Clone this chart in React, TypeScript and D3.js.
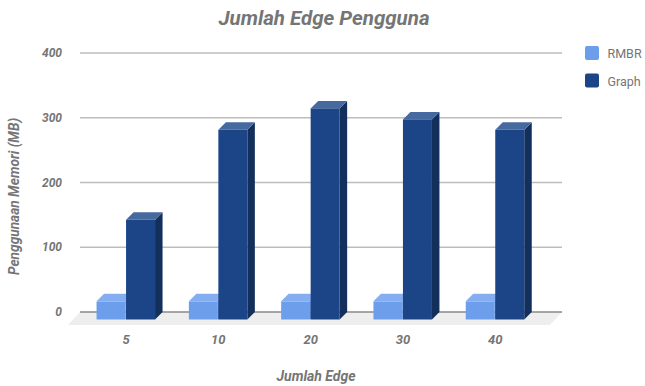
import React from "react";
import * as d3 from "d3";

const categories = ["5", "10", "20", "30", "40"];
const rmbrValues = [28, 28, 28, 28, 28];
const graphValues = [154, 293, 326, 309, 293];
const yTicks = [0, 100, 200, 300, 400];
const seriesNames = ["RMBR", "Graph"];

const WIDTH = 645;
const HEIGHT = 386;
const DEPTH_X = 7.5;
const DEPTH_Y = 7.5;
const BAR_W = 29;

const palette = {
  RMBR: { front: "#6d9eeb", top: "#84aeef", side: "#5a86c9" },
  Graph: { front: "#1c4587", top: "#46699f", side: "#132f5c" },
};

type Tone = { front: string; top: string; side: string };

function Bar3D({ x, yTop, yBase, tone }: { x: number; yTop: number; yBase: number; tone: Tone }) {
  const f = yTop + DEPTH_Y;
  const b = yBase + DEPTH_Y;
  const r = x + BAR_W;
  return (
    <g>
      <polygon
        points={`${r},${f} ${r + DEPTH_X},${yTop} ${r + DEPTH_X},${yBase} ${r},${b}`}
        fill={tone.side}
      />
      <polygon
        points={`${x},${f} ${x + DEPTH_X},${yTop} ${r + DEPTH_X},${yTop} ${r},${f}`}
        fill={tone.top}
      />
      <rect x={x} y={f} width={BAR_W} height={b - f} fill={tone.front} />
    </g>
  );
}

export default function App() {
  const y = d3.scaleLinear().domain([0, 400]).range([312, 53]);
  const x = d3.scaleBand<string>().domain(categories).range([79.9, 541.4]).padding(0);
  const center = (c: string) => (x(c) as number) + x.bandwidth() / 2;
  const axisFont = "Roboto, sans-serif";

  return (
    <svg
      width={WIDTH}
      height={HEIGHT}
      style={{ position: "absolute", left: 0, top: 0, background: "#fff" }}
      fontFamily={axisFont}
    >
      <text
        x={324}
        y={25}
        textAnchor="middle"
        fontSize={20.5}
        fontWeight={700}
        fontStyle="italic"
        fill="#757575"
      >
        Jumlah Edge Pengguna
      </text>

      <polygon
        points={`80,${y(0)} 562,${y(0)} 550,${y(0) + 13} 68,${y(0) + 13}`}
        fill="#eeeeee"
      />

      {yTicks.map((t) => (
        <g key={t}>
          <line
            x1={80}
            x2={562}
            y1={y(t)}
            y2={y(t)}
            stroke={t === 0 ? "#8a8a8a" : "#bdbdbd"}
            strokeWidth={1.4}
          />
          <text
            x={62}
            y={y(t) + 4}
            textAnchor="end"
            fontSize={12}
            fontWeight={700}
            fontStyle="italic"
            fill="#757575"
          >
            {t}
          </text>
        </g>
      ))}

      {categories.map((c, i) => (
        <g key={c}>
          <Bar3D
            x={center(c) - BAR_W - 0.5}
            yTop={y(rmbrValues[i])}
            yBase={y(0)}
            tone={palette.RMBR}
          />
          <Bar3D
            x={center(c)}
            yTop={y(graphValues[i])}
            yBase={y(0)}
            tone={palette.Graph}
          />
          <text
            x={center(c)}
            y={344}
            textAnchor="middle"
            fontSize={13}
            fontWeight={700}
            fontStyle="italic"
            fill="#757575"
          >
            {c}
          </text>
        </g>
      ))}

      <text
        x={316}
        y={381}
        textAnchor="middle"
        fontSize={14}
        fontWeight={700}
        fontStyle="italic"
        fill="#757575"
      >
        Jumlah Edge
      </text>
      <text
        transform="translate(19,196.5) rotate(-90)"
        textAnchor="middle"
        fontSize={13.7}
        fontWeight={700}
        fontStyle="italic"
        fill="#757575"
      >
        Penggunaan Memori (MB)
      </text>

      {seriesNames.map((name, i) => (
        <g key={name} transform={`translate(585,${46 + i * 27.5})`}>
          <rect
            width={14}
            height={14}
            rx={2}
            fill={i === 0 ? palette.RMBR.front : palette.Graph.front}
          />
          <text x={22.5} y={12} fontSize={12.5} fill="#757575">
            {name}
          </text>
        </g>
      ))}
    </svg>
  );
}
